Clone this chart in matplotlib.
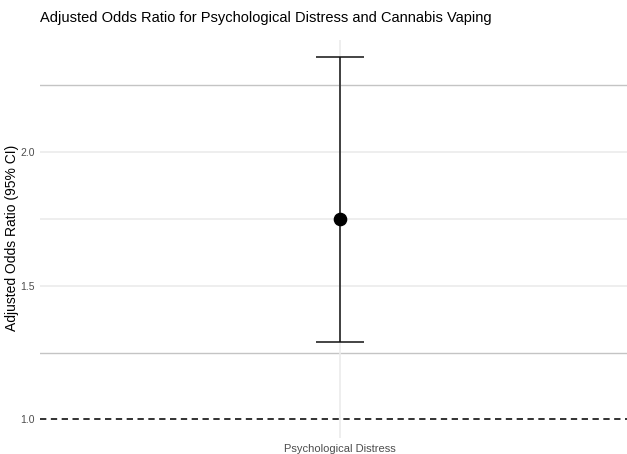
import matplotlib.pyplot as plt

# Data
categories = ['Psychological Distress']
aor = [1.75]
ci_low = [1.29]
ci_high = [2.355]
ref_value = 1.0
yticks = [1.0, 1.5, 2.0]

plt.rcParams['font.family'] = ['Liberation Sans', 'DejaVu Sans']

fig = plt.figure(figsize=(6.27, 4.54), dpi=100)
ax = fig.add_axes([40 / 627, 16 / 454, 587 / 627, 398 / 454])

x = [1]
err_low = [a - l for a, l in zip(aor, ci_low)]
err_high = [h - a for a, h in zip(aor, ci_high)]

# gridlines (ggplot theme_minimal look)
for y in [1.5, 1.75, 2.0]:
    ax.axhline(y, color='#ebebeb', lw=1.2, zorder=0)
for y in [1.25, 2.25]:
    ax.axhline(y, color='#c4c4c4', lw=1.0, zorder=0)
ax.axvline(1, color='#ebebeb', lw=1.2, zorder=0)

ax.axhline(ref_value, color='#222222', lw=1.3, ls=(0, (3.5, 2.5)), zorder=1)

ax.errorbar(x, aor, yerr=[err_low, err_high], fmt='none', ecolor='#111111',
            elinewidth=1.1, capsize=17.3, capthick=1.1, zorder=2)
ax.plot(x, aor, 'o', color='black', markersize=8.8, zorder=3)

ax.set_xlim(0.4, 1.574)
ax.set_ylim(0.93, 2.42)
ax.set_xticks(x)
ax.set_xticklabels(categories, fontsize=8, color='#4d4d4d')
ax.set_yticks(yticks)
ax.set_yticklabels([f'{v:.1f}' for v in yticks], fontsize=7.5, color='#4d4d4d')
ax.tick_params(length=0, pad=4)
for s in ax.spines.values():
    s.set_visible(False)

fig.text(12 / 627, 1 - 238 / 454, 'Adjusted Odds Ratio (95% CI)', fontsize=10,
         rotation=90, ha='center', va='center')
fig.text(40 / 627, 1 - 18 / 454, 'Adjusted Odds Ratio for Psychological Distress and Cannabis Vaping',
         fontsize=10.5, va='center', ha='left')

fig.savefig('out.png', dpi=100)
